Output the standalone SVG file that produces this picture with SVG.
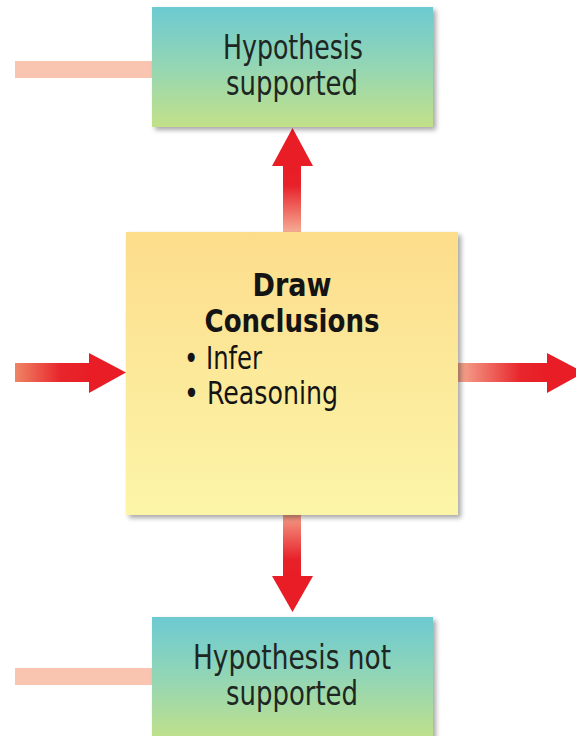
<svg xmlns="http://www.w3.org/2000/svg" width="576" height="736" viewBox="0 0 576 736">
  <defs>
    <linearGradient id="gTeal" x1="0" y1="0" x2="0" y2="1">
      <stop offset="0" stop-color="#6CCAD2"/>
      <stop offset="0.5" stop-color="#94D6B4"/>
      <stop offset="1" stop-color="#C2E188"/>
    </linearGradient>
    <linearGradient id="gYellow" x1="0" y1="0" x2="0" y2="1">
      <stop offset="0" stop-color="#FCDD8C"/>
      <stop offset="1" stop-color="#FCF5A8"/>
    </linearGradient>
    <linearGradient id="gUp" gradientUnits="userSpaceOnUse" x1="0" y1="232" x2="0" y2="166">
      <stop offset="0" stop-color="#F6AC94"/>
      <stop offset="0.7" stop-color="#E8222A"/>
      <stop offset="1" stop-color="#E81D25"/>
    </linearGradient>
    <linearGradient id="gDown" gradientUnits="userSpaceOnUse" x1="0" y1="515" x2="0" y2="578">
      <stop offset="0" stop-color="#F39C86"/>
      <stop offset="0.7" stop-color="#E8222A"/>
      <stop offset="1" stop-color="#E81D25"/>
    </linearGradient>
    <linearGradient id="gLeft" gradientUnits="userSpaceOnUse" x1="15" y1="0" x2="90" y2="0">
      <stop offset="0" stop-color="#EF8566"/>
      <stop offset="0.6" stop-color="#E8262C"/>
      <stop offset="1" stop-color="#E81D25"/>
    </linearGradient>
    <linearGradient id="gRight" gradientUnits="userSpaceOnUse" x1="458" y1="0" x2="547" y2="0">
      <stop offset="0" stop-color="#F4A890"/>
      <stop offset="0.7" stop-color="#E8262C"/>
      <stop offset="1" stop-color="#E81D25"/>
    </linearGradient>
    <filter id="shadow" x="-10%" y="-10%" width="125%" height="125%">
      <feGaussianBlur in="SourceAlpha" stdDeviation="2.5"/>
      <feOffset dx="3" dy="3" result="b"/>
      <feComponentTransfer><feFuncA type="linear" slope="0.35"/></feComponentTransfer>
      <feMerge><feMergeNode/><feMergeNode in="SourceGraphic"/></feMerge>
    </filter>
  </defs>
  <style>
    .box { filter: url(#shadow); }
    .lbl { font-family: "Liberation Sans Narrow", "DejaVu Sans Condensed", "Liberation Sans", sans-serif; font-size: 34px; fill: #1E2622; text-anchor: middle; }
    .bold { font-weight: bold; fill: #141414; font-size: 32px; }
    .item { text-anchor: start; fill: #141414; font-size: 32px; }
    .feed { fill: #F9C4B0; }
  </style>
  <rect width="576" height="736" fill="#FFFFFF"/>

  <g id="connectors">
    <rect class="feed" x="15" y="61" width="137" height="17"/>
    <rect class="feed" x="15" y="668" width="137" height="17"/>
    <polygon fill="url(#gUp)" points="283,232 283,166 272,166 292.5,128 313,166 301,166 301,232"/>
    <polygon fill="url(#gDown)" points="283,515 283,576 272,576 292.5,612 313,576 301,576 301,515"/>
    <polygon fill="url(#gLeft)" points="15,363 89,363 89,353 126,372.5 89,393 89,382 15,382"/>
    <polygon fill="url(#gRight)" points="458,363 547,363 547,353 584,372.5 547,393 547,382 458,382"/>
  </g>

  <g id="node-supported">
    <rect class="box" x="152" y="7" width="281" height="120" fill="url(#gTeal)"/>
    <text class="lbl" x="293" y="59" textLength="140" lengthAdjust="spacingAndGlyphs">Hypothesis</text>
    <text class="lbl" x="292" y="95" textLength="132" lengthAdjust="spacingAndGlyphs">supported</text>
  </g>

  <g id="node-conclusions">
    <rect class="box" x="126" y="232" width="332" height="283" fill="url(#gYellow)"/>
    <text class="lbl bold" x="292" y="296" textLength="79" lengthAdjust="spacingAndGlyphs">Draw</text>
    <text class="lbl bold" x="292" y="332" textLength="175" lengthAdjust="spacingAndGlyphs">Conclusions</text>
    <text class="lbl item" x="184" y="369" textLength="78" lengthAdjust="spacingAndGlyphs">• Infer</text>
    <text class="lbl item" x="184" y="404" textLength="154" lengthAdjust="spacingAndGlyphs">• Reasoning</text>
  </g>

  <g id="node-not-supported">
    <rect class="box" x="152" y="617" width="281" height="125" fill="url(#gTeal)"/>
    <text class="lbl" x="292" y="669" textLength="198" lengthAdjust="spacingAndGlyphs">Hypothesis not</text>
    <text class="lbl" x="292" y="705" textLength="132" lengthAdjust="spacingAndGlyphs">supported</text>
  </g>
</svg>
